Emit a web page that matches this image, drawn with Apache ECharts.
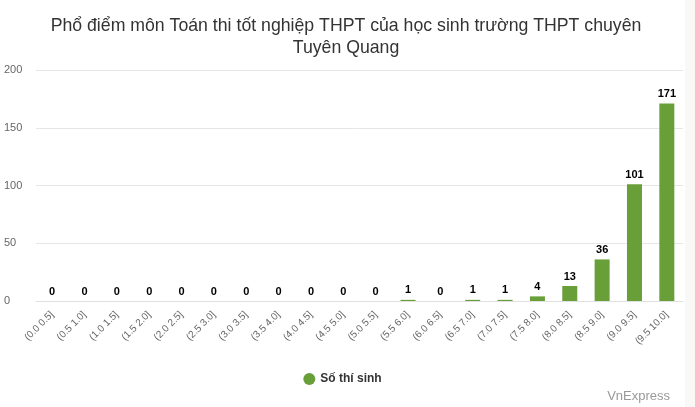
<!DOCTYPE html>
<html><head><meta charset="utf-8">
<script src="https://cdn.jsdelivr.net/npm/echarts@6/dist/echarts.min.js"></script>
<style>
html,body{margin:0;padding:0;background:#f8f8f6;}
#wrap{position:relative;width:685px;height:407px;background:#fff;}
#c{width:685px;height:407px;}
</style></head><body>
<div id="wrap"><div id="c"></div></div>
<script>
const categories = ["(0.0 0.5]","(0.5 1.0]","(1.0 1.5]","(1.5 2.0]","(2.0 2.5]","(2.5 3.0]","(3.0 3.5]","(3.5 4.0]","(4.0 4.5]","(4.5 5.0]","(5.0 5.5]","(5.5 6.0]","(6.0 6.5]","(6.5 7.0]","(7.0 7.5]","(7.5 8.0]","(8.0 8.5]","(8.5 9.0]","(9.0 9.5]","(9.5 10.0]"];
const students = [0,0,0,0,0,0,0,0,0,0,0,1,0,1,1,4,13,36,101,171];
const yTicks = [0,50,100,150,200];
const seriesName = "Số thí sinh";
const titleText = "Phổ điểm môn Toán thi tốt nghiệp THPT của học sinh trường THPT chuyên\nTuyên Quang";

const chart = echarts.init(document.getElementById('c'));
chart.setOption({
  animation:false,
  textStyle:{fontFamily:'Liberation Sans, Arial, sans-serif'},
  title:[{text:titleText,left:341,top:10,textAlign:'center',
    textStyle:{fontSize:17.7,fontWeight:'normal',color:'#333',lineHeight:22,fontFamily:'Liberation Sans, Arial, sans-serif'}},
    {text:'VnExpress',right:10,top:385,textStyle:{fontSize:13,fontWeight:'normal',color:'#999',fontFamily:'Liberation Sans, Arial, sans-serif'}}],
  legend:{data:[seriesName],left:'center',top:368,icon:'circle',itemWidth:12,itemHeight:12,itemGap:6,
    textStyle:{fontSize:12,fontWeight:'bold',color:'#333'}},
  grid:{left:36,right:2,top:70,bottom:106,containLabel:false,outerBoundsMode:'none'},
  xAxis:{type:'category',data:categories,
    axisLine:{lineStyle:{color:'#e0e0e0'}},axisTick:{show:false},
    axisLabel:{rotate:45,fontSize:10,color:'#666',interval:0,margin:12}},
  yAxis:{type:'value',min:yTicks[0],max:yTicks[yTicks.length-1],interval:50,
    axisLabel:{fontSize:11,color:'#666',margin:32,align:'left'},
    splitLine:{lineStyle:{color:'#e6e6e6'}},axisLine:{show:false},axisTick:{show:false}},
  series:[{name:seriesName,type:'bar',data:students,barWidth:15,
    itemStyle:{color:'#689f38'},
    label:{show:true,position:'top',fontSize:11,fontWeight:'bold',color:'#000',distance:4}}]
});
</script></body></html>
